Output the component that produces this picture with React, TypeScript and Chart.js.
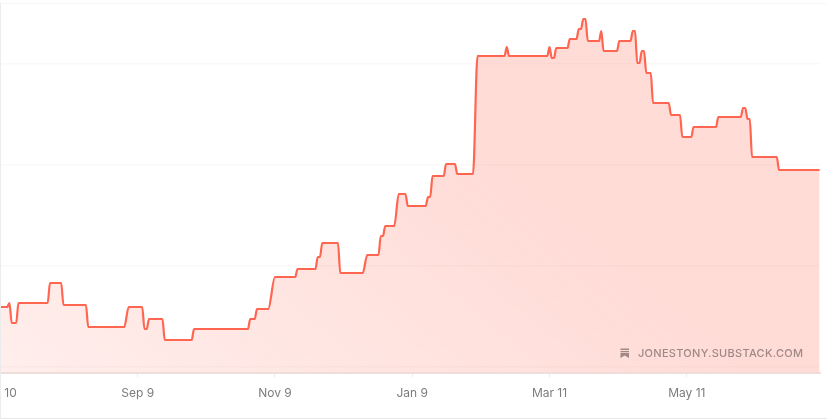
import React, { useEffect, useRef } from "react";
import { Chart, registerables } from "chart.js";

Chart.register(...registerables);

const tickDays = [0, 61, 122, 183, 244, 305];
const tickLabels = ["Jul 10", "Sep 9", "Nov 9", "Jan 9", "Mar 11", "May 11"];
const gridValues = [0, 101, 202, 303];

const days = [
  0, 3, 4, 5, 7, 8, 21, 22, 27, 28, 38, 39, 55, 57, 63, 64, 65, 66, 72, 73, 85, 86, 110, 111, 113, 114, 119, 122,
  131, 132, 140, 141, 142, 143, 150, 151, 161, 163, 168, 169, 170, 171, 175, 177, 180, 181, 189, 190, 191, 192,
  197, 198, 202, 203, 210, 212, 224, 225, 226, 243, 244, 245, 246, 247, 252, 253, 256, 257, 258, 259, 260, 261,
  266, 267, 268, 274, 275, 280, 281, 282, 283, 284, 285, 286, 287, 289, 290, 297, 298, 302, 303, 307, 308, 318,
  319, 329, 330, 331, 332, 333, 334, 345, 346, 364,
];
const values = [
  60, 60, 64, 44, 44, 64, 64, 84, 84, 62, 62, 40, 40, 60, 60, 38, 38, 48, 48, 27, 27, 38, 38, 48, 48, 58, 58, 90,
  90, 98, 98, 110, 110, 124, 124, 94, 94, 112, 112, 131, 131, 141, 141, 173, 173, 161, 161, 170, 170, 191,
  191, 203, 203, 193, 193, 311, 311, 320, 311, 311, 320, 309, 309, 319, 319, 328, 328, 338, 338, 348, 348, 326,
  326, 336, 316, 316, 326, 326, 336, 336, 304, 304, 316, 316, 294, 294, 264, 264, 252, 252, 230, 230, 240, 240,
  250, 250, 259, 259, 248, 248, 210, 210, 197, 197,
];

export default function App() {
  const ref = useRef<HTMLCanvasElement>(null);
  useEffect(() => {
    const points = days.map((d, i) => ({ x: d, y: values[i] }));
    const chart = new Chart(ref.current!, {
      type: "line",
      data: {
        datasets: [
          {
            data: points,
            borderColor: "#ff6651",
            borderWidth: 2.2,
            pointRadius: 0,
            cubicInterpolationMode: "monotone",
            fill: "start",
            backgroundColor: (ctx: any) => {
              const a = ctx.chart.chartArea;
              if (!a) return "rgba(255,102,81,0.2)";
              const g = ctx.chart.ctx.createLinearGradient(a.left, a.bottom, a.left + 300, a.top);
              g.addColorStop(0, "rgba(255,102,81,0.11)");
              g.addColorStop(1, "rgba(255,102,81,0.23)");
              return g;
            },
          },
        ],
      },
      options: {
        animation: false,
        responsive: false,
        events: [],
        layout: { padding: { left: 0, right: 7, top: 3, bottom: 0 } },
        plugins: { legend: { display: false }, tooltip: { enabled: false } },
        scales: {
          x: {
            type: "linear",
            min: -0.2,
            max: 364.2,
            afterBuildTicks: (s: any) => {
              s.ticks = tickDays.map((v) => ({ value: v }));
            },
            afterFit: (s: any) => {
              s.height = 46.5;
              s.paddingLeft = 0;
              s.paddingRight = 0;
            },
            border: { display: true, color: "#efdfdc", width: 2 },
            grid: { drawOnChartArea: false, drawTicks: true, tickLength: 5, color: "#ececec" },
            ticks: {
              autoSkip: false,
              maxRotation: 0,
              padding: 9,
              color: "#7c7c7c",
              font: { family: "Inter", size: 12 },
              callback: (v: any) => tickLabels[tickDays.indexOf(v)] ?? "",
            },
          },
          y: {
            type: "linear",
            display: true,
            min: -5.5,
            max: 364,
            afterFit: (s: any) => {
              s.width = 0;
            },
            afterBuildTicks: (s: any) => {
              s.ticks = gridValues.map((v) => ({ value: v }));
            },
            border: { display: false },
            grid: { color: "rgba(90,50,40,0.03)", lineWidth: 1.5, drawTicks: false },
            ticks: { display: false },
          },
        },
      },
    });
    return () => chart.destroy();
  }, []);

  return (
    <div style={{ position: "absolute", left: 0, top: 0, width: 827, height: 419, overflow: "hidden", background: "#fff" }}>
      <canvas ref={ref} width={827} height={419} style={{ display: "block", position: "absolute", left: 0, top: 0 }} />
      <div style={{ position: "absolute", left: 0, top: 3, width: 827, height: 1, background: "#f6f6f6" }} />
      <div style={{ position: "absolute", left: 0, top: 418, width: 827, height: 1, background: "#e8e8e8" }} />
      <div style={{ position: "absolute", left: 0, top: 3, width: 1, height: 416, background: "#ececec" }} />
      <svg width="10" height="10" viewBox="0 0 10 10" style={{ position: "absolute", left: 620, top: 348 }}>
        <path d="M0.5 0.5H9V2H0.5ZM0.5 3H9V4.2H0.5ZM0.5 5H9V10L4.75 7.6L0.5 10Z" fill="#a08886" />
      </svg>
      <div
        style={{
          position: "absolute",
          left: 638,
          top: 345,
          fontFamily: "Inter",
          fontSize: 11,
          lineHeight: "16px",
          fontWeight: 500,
          letterSpacing: "0.28px",
          color: "#a08886",
          whiteSpace: "nowrap",
        }}
      >
        JONESTONY.SUBSTACK.COM
      </div>
    </div>
  );
}
